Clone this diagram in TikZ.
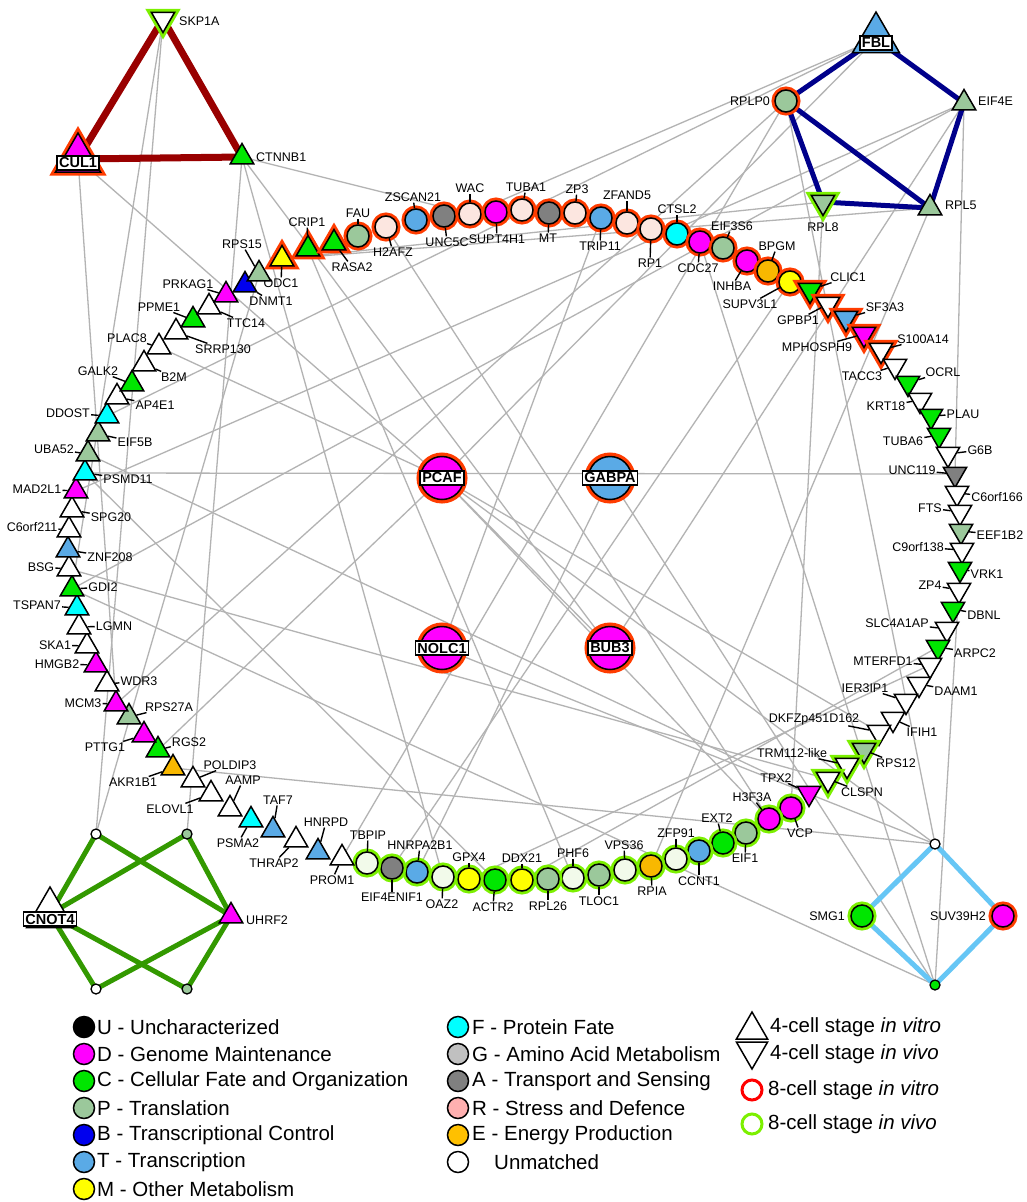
\documentclass[tikz,border=0pt]{standalone}
\usepackage{fontspec}
\setmainfont{Liberation Sans}
\usetikzlibrary{shapes.geometric}
\pgfdeclarelayer{bg}
\pgfsetlayers{bg,main}
\definecolor{cD}{HTML}{FF00FF}
\definecolor{cC}{HTML}{00E600}
\definecolor{cP}{HTML}{9BC89B}
\definecolor{cB}{HTML}{0000EE}
\definecolor{cT}{HTML}{5AAAE6}
\definecolor{cM}{HTML}{FFFF00}
\definecolor{cF}{HTML}{00FFFF}
\definecolor{cG}{HTML}{C0C0C0}
\definecolor{cA}{HTML}{808080}
\definecolor{cR}{HTML}{FFB0B0}
\definecolor{cE}{HTML}{F8B800}
\definecolor{cEl}{HTML}{FFC000}
\definecolor{pW}{HTML}{FCE6E0}
\definecolor{gW}{HTML}{F2FAEA}
\definecolor{ringR}{HTML}{FF3C00}
\definecolor{ringG}{HTML}{7CF000}
\definecolor{eGray}{HTML}{B3B3B3}
\definecolor{eRed}{HTML}{990000}
\definecolor{eBlue}{HTML}{00008B}
\definecolor{eGreen}{HTML}{339900}
\definecolor{eLB}{HTML}{66C6F5}
\newcommand\GNd[6]{\node[#3,fill=#4] (#1) at (#2) {};\node[lbl] (#1l) at (#5) {#6};\draw[tk] (#1) -- (#1l);}
\begin{document}
\begin{tikzpicture}[x=1pt,y=-1pt,
 nb/.style={draw=black,line width=1.5pt,inner sep=0pt},
 tu/.style={nb,regular polygon,regular polygon sides=3,minimum size=27pt},
 td/.style={tu,shape border rotate=180},
 cc/.style={nb,circle,minimum size=22pt},
 rr/.style={preaction={draw=ringR,line width=7pt}},
 rg/.style={preaction={draw=ringG,line width=7pt}},
 tur/.style={tu,rr}, tdr/.style={td,rr}, tdg/.style={td,rg},
 ccr/.style={cc,rr}, ccg/.style={cc,rg},
 big/.style={nb,circle,minimum size=43pt,preaction={draw=ringR,line width=8pt}},
 sm/.style={draw=black,line width=1.3pt,circle,minimum size=10pt,inner sep=0pt},
 lbl/.style={font=\fontsize{12.5}{14}\selectfont,inner sep=1pt},
 tk/.style={draw=black,line width=1.4pt},
 bx/.style={draw=black,fill=white,line width=1.6pt,font=\fontsize{14.5}{16}\bfseries,inner sep=2pt},
 gl/.style={draw=eGray,line width=1.3pt},
 lg/.style={font=\fontsize{20.5}{23}\selectfont,anchor=west,inner sep=0pt},
 lc/.style={draw=black,line width=1.5pt,circle,minimum size=21pt,inner sep=0pt}]
\useasboundingbox (0,0) rectangle (1026,1202);
\begin{pgfonlayer}{bg}\fill[white] (0,0) rectangle (1026,1202);\end{pgfonlayer}

% ---------- top-left triangle group
\node[tdg,fill=white] (SKP1A) at (163,19) {};
\node[lbl,anchor=west] (SKP1Al) at (178,21) {SKP1A};
\node[tur,fill=cD,minimum size=52pt] (CUL1) at (78,159) {};
\node[bx] (CUL1b) at (78,163) {CUL1};
\node[tu,fill=cC] (CTNNB1) at (242,157) {};
\node[lbl,anchor=west] (CTNNB1l) at (255,157) {CTNNB1};

% ---------- top-right pentagon
\node[tu,fill=cT,minimum size=54pt] (FBL) at (876,39) {};
\node[bx] (FBLb) at (876,43) {FBL};
\node[ccr,fill=cP] (RPLP0) at (786,101) {};
\node[lbl,anchor=east] (RPLP0l) at (771,101) {RPLP0};
\node[tu,fill=cP] (EIF4E) at (964,103) {};
\node[lbl,anchor=west] (EIF4El) at (977,101) {EIF4E};
\node[tdg,fill=cP] (RPL8) at (823,202) {};
\node[lbl] (RPL8l) at (823,227) {RPL8};
\node[tu,fill=cP] (RPL5) at (930,208) {};
\node[lbl,anchor=west] (RPL5l) at (944,205) {RPL5};

% ---------- bottom-left CNOT4 group
\node[sm,fill=white] (cL1) at (96,834) {};
\node[sm,fill=cP] (cR1) at (187,834) {};
\node[sm,fill=white] (cL2) at (96,989) {};
\node[sm,fill=cP] (cR2) at (187,989) {};
\node[tu,fill=white,minimum size=54pt] (CNOT4) at (50,914) {};
\node[bx] (CNOT4b) at (50,919) {CNOT4};
\node[tu,fill=cD] (UHRF2) at (231,916) {};
\node[lbl,anchor=west] (UHRF2l) at (245,920) {UHRF2};

% ---------- bottom-right diamond
\node[sm,fill=white] (dT) at (935,844) {};
\node[sm,fill=cC] (dB) at (935,985) {};
\node[ccg,fill=cC] (SMG1) at (862,916) {};
\node[lbl,anchor=east] (SMG1l) at (846,916) {SMG1};
\node[ccr,fill=cD] (SUV39H2) at (1003,916) {};
\node[lbl,anchor=east] (SUV39H2l) at (987,916) {SUV39H2};

% ---------- center
\node[big,fill=cD] (PCAF) at (442,478) {}; \node[bx] (PCAFb) at (442,478) {PCAF};
\node[big,fill=cT] (GABPA) at (610,478) {}; \node[bx] (GABPAb) at (610,478) {GABPA};
\node[big,fill=cD] (NOLC1) at (442,648) {}; \node[bx] (NOLC1b) at (442,648) {NOLC1};
\node[big,fill=cD] (BUB3) at (610,648) {}; \node[bx] (BUB3b) at (610,648) {BUB3};

% ---------- top chain
\GNd{ODC1}{282,259}{tur}{cM}{281,283}{ODC1}
\GNd{CRIP1}{308,249}{tur}{cC}{307,222}{CRIP1}
\GNd{RASA2}{334,243}{tur}{cC}{352,267}{RASA2}
\GNd{FAU}{358,236}{ccr}{cP}{358,213}{FAU}
\GNd{H2AFZ}{386,227}{ccr}{pW}{393,252}{H2AFZ}
\GNd{ZSCAN21}{416,220}{ccr}{cT}{413,197}{ZSCAN21}
\GNd{UNC5C}{444,216}{ccr}{cA}{447,242}{UNC5C}
\GNd{WAC}{470,214}{ccr}{pW}{470,188}{WAC}
\GNd{SUPT4H1}{496,212}{ccr}{cD}{497,239}{SUPT4H1}
\GNd{TUBA1}{522,210}{ccr}{pW}{526,187}{TUBA1}
\GNd{MT}{549,213}{ccr}{cA}{548,238}{MT}
\GNd{ZP3}{575,213}{ccr}{pW}{577,189}{ZP3}
\GNd{TRIP11}{601,218}{ccr}{cT}{600,246}{TRIP11}
\GNd{ZFAND5}{627,223}{ccr}{pW}{627,195}{ZFAND5}
\GNd{RP1}{651,229}{ccr}{pW}{650,263}{RP1}
\GNd{CTSL2}{677,234}{ccr}{cF}{677,209}{CTSL2}
\GNd{CDC27}{700,242}{ccr}{cD}{698,268}{CDC27}
\GNd{EIF3S6}{723,248}{ccr}{cP}{732,226}{EIF3S6}
\GNd{INHBA}{747,261}{ccr}{cD}{732,286}{INHBA}
\GNd{BPGM}{768,271}{ccr}{cE}{777,246}{BPGM}
\GNd{SUPV3L1}{790,282}{ccr}{cM}{750,304}{SUPV3L1}

% ---------- right chain
\GNd{CLIC1}{810,290}{tdr}{cC}{848,277}{CLIC1}
\GNd{GPBP1}{828,304}{tdr}{white}{798,320}{GPBP1}
\GNd{SF3A3}{846,318}{tdr}{cT}{885,307}{SF3A3}
\GNd{MPHOSPH9}{864,334}{tdr}{cD}{817,347}{MPHOSPH9}
\GNd{S100A14}{881,350}{tdr}{white}{923,339}{S100A14}
\GNd{TACC3}{895,366}{td}{white}{862,376}{TACC3}
\GNd{OCRL}{908,383}{td}{cC}{943,372}{OCRL}
\GNd{KRT18}{920,400}{td}{white}{886,406}{KRT18}
\GNd{PLAU}{931,416}{td}{cC}{963,414}{PLAU}
\GNd{TUBA6}{939,435}{td}{cC}{903,441}{TUBA6}
\GNd{G6B}{948,454}{td}{white}{980,450}{G6B}
\GNd{UNC119}{955,474}{td}{cA}{912,470}{UNC119}
\GNd{C6orf166}{957,493}{td}{white}{997,497}{C6orf166}
\GNd{FTS}{960,512}{td}{white}{930,508}{FTS}
\GNd{EEF1B2}{961,531}{td}{cP}{1000,535}{EEF1B2}
\GNd{C9orf138}{962,550}{td}{white}{918,547}{C9orf138}
\GNd{VRK1}{960,569}{td}{cC}{987,574}{VRK1}
\GNd{ZP4}{959,590}{td}{white}{930,585}{ZP4}
\GNd{DBNL}{953,609}{td}{cC}{984,615}{DBNL}
\GNd{SLC4A1AP}{947,629}{td}{white}{897,623}{SLC4A1AP}
\GNd{ARPC2}{938,647}{td}{cC}{975,653}{ARPC2}
\GNd{MTERFD1}{930,665}{td}{white}{883,661}{MTERFD1}
\GNd{DAAM1}{919,684}{td}{white}{956,691}{DAAM1}
\GNd{IER3IP1}{906,701}{td}{white}{865,688}{IER3IP1}
\GNd{IFIH1}{893,719}{td}{white}{922,732}{IFIH1}
\GNd{DKFZ}{879,732}{td}{white}{814,719}{DKFZp451D162}
\GNd{RPS12}{864,750}{tdg}{cP}{896,763}{RPS12}
\GNd{TRM}{847,765}{tdg}{white}{792,753}{TRM112-like}
\GNd{CLSPN}{828,779}{tdg}{white}{862,792}{CLSPN}
\GNd{TPX2}{809,793}{td}{cD}{776,778}{TPX2}

% ---------- bottom chain
\GNd{VCP}{791,808}{ccg}{cD}{800,833}{VCP}
\GNd{H3F3A}{769,819}{ccg}{cD}{752,797}{H3F3A}
\GNd{EIF1}{746,833}{ccg}{cP}{745,858}{EIF1}
\GNd{EXT2}{723,843}{ccg}{cC}{717,818}{EXT2}
\GNd{CCNT1}{699,851}{ccg}{cT}{699,881}{CCNT1}
\GNd{ZFP91}{676,859}{ccg}{gW}{676,833}{ZFP91}
\GNd{RPIA}{651,866}{ccg}{cE}{652,891}{RPIA}
\GNd{VPS36}{625,870}{ccg}{gW}{624,845}{VPS36}
\GNd{TLOC1}{599,875}{ccg}{cP}{599,901}{TLOC1}
\GNd{PHF6}{573,878}{ccg}{gW}{573,853}{PHF6}
\GNd{RPL26}{548,879}{ccg}{cP}{548,906}{RPL26}
\GNd{DDX21}{522,880}{ccg}{cM}{522,858}{DDX21}
\GNd{ACTR2}{495,880}{ccg}{cC}{493,907}{ACTR2}
\GNd{GPX4}{469,879}{ccg}{cM}{469,857}{GPX4}
\GNd{OAZ2}{443,877}{ccg}{gW}{442,904}{OAZ2}
\GNd{HNRPA2B1}{417,872}{ccg}{cT}{420,845}{HNRPA2B1}
\GNd{EIF4ENIF1}{392,868}{ccg}{cA}{392,897}{EIF4ENIF1}
\GNd{TBPIP}{367,863}{ccg}{gW}{368,835}{TBPIP}
\GNd{PROM1}{342,858}{tu}{white}{332,880}{PROM1}
\GNd{HNRPD}{318,852}{tu}{cT}{326,822}{HNRPD}
\GNd{THRAP2}{296,840}{tu}{white}{274,863}{THRAP2}
\GNd{TAF7}{273,830}{tu}{cT}{278,800}{TAF7}
\GNd{PSMA2}{251,820}{tu}{cF}{238,843}{PSMA2}
\GNd{AAMP}{230,809}{tu}{white}{243,780}{AAMP}
\GNd{ELOVL1}{211,794}{tu}{white}{170,809}{ELOVL1}
\GNd{POLDIP3}{193,780}{tu}{white}{230,765}{POLDIP3}
\GNd{AKR1B1}{173,768}{tu}{cE}{133,782}{AKR1B1}

% ---------- left chain
\GNd{RGS2}{158,750}{tu}{cC}{189,742}{RGS2}
\GNd{PTTG1}{144,735}{tu}{cD}{105,747}{PTTG1}
\GNd{RPS27A}{129,717}{tu}{cP}{169,707}{RPS27A}
\GNd{MCM3}{116,704}{tu}{cD}{83,703}{MCM3}
\GNd{WDR3}{107,684}{tu}{white}{139,681}{WDR3}
\GNd{HMGB2}{96,665}{tu}{cD}{57,664}{HMGB2}
\GNd{SKA1}{87,646}{tu}{white}{55,645}{SKA1}
\GNd{LGMN}{79,627}{tu}{white}{114,626}{LGMN}
\GNd{TSPAN7}{77,608}{tu}{cF}{37,605}{TSPAN7}
\GNd{GDI2}{72,589}{tu}{cC}{103,587}{GDI2}
\GNd{BSG}{69,569}{tu}{white}{41,567}{BSG}
\GNd{ZNF208}{68,550}{tu}{cT}{110,557}{ZNF208}
\GNd{C6orf211}{69,530}{tu}{white}{32,527}{C6orf211}
\GNd{SPG20}{72,510}{tu}{white}{111,517}{SPG20}
\GNd{MAD2L1}{76,491}{tu}{cD}{37,489}{MAD2L1}
\GNd{PSMD11}{85,473}{tu}{cF}{128,479}{PSMD11}
\GNd{UBA52}{88,454}{tu}{cP}{54,449}{UBA52}
\GNd{EIF5B}{98,434}{tu}{cP}{135,442}{EIF5B}
\GNd{DDOST}{107,416}{tu}{cF}{68,413}{DDOST}
\GNd{AP4E1}{117,397}{tu}{white}{155,405}{AP4E1}
\GNd{GALK2}{132,384}{tu}{cC}{98,371}{GALK2}
\GNd{B2M}{144,364}{tu}{white}{174,377}{B2M}
\GNd{PLAC8}{159,347}{tu}{white}{127,338}{PLAC8}
\GNd{SRRP130}{176,332}{tu}{white}{223,349}{SRRP130}
\GNd{PPME1}{193,320}{tu}{cC}{159,307}{PPME1}
\GNd{TTC14}{209,307}{tu}{white}{246,323}{TTC14}
\GNd{PRKAG1}{226,295}{tu}{cD}{188,284}{PRKAG1}
\GNd{DNMT1}{245,285}{tu}{cB}{271,301}{DNMT1}
\GNd{RPS15}{259,274}{tu}{cP}{242,244}{RPS15}

% ---------- edges
\begin{pgfonlayer}{bg}
\foreach \a/\b in {SKP1A/GDI2,SKP1A/cL1,CUL1/PCAF,CUL1/MCM3,CTNNB1/cR1,CTNNB1/WAC,
 CTNNB1/OAZ2,CTNNB1/BUB3,ODC1/RPL8,ODC1/RPL5,FBL/DDOST,FBL/PCAF,FBL/WAC,RPLP0/MCM3,
 RPLP0/PROM1,RPLP0/dT,RPL8/VCP,RPL5/RPIA,EIF4E/UNC119,EIF4E/GDI2,EIF4E/BUB3,EIF4E/MAD2L1,
 VRK1/dB,PSMD11/UNC119,PCAF/RGS2,PCAF/H3F3A,PCAF/BUB3,PCAF/DKFZ,PCAF/dT,PCAF/PLAC8,
 GABPA/HNRPA2B1,GABPA/dB,NOLC1/TRIP11,NOLC1/dT,UBA52/TPX2,AKR1B1/dT,ARPC2/DDX21,
 PSMD11/ACTR2,EIF4ENIF1/SUPV3L1,GDI2/dB,BSG/CLSPN,cL1/RPS15,CDC27/dB,H2AFZ/H3F3A,
 CRIP1/PHF6,MTERFD1/GPX4}
 \draw[gl] (\a.center) -- (\b.center);
\foreach \a/\b in {CUL1/SKP1A,SKP1A/CTNNB1,CUL1/CTNNB1}
 \draw[eRed,line width=7pt] (\a.center) -- (\b.center);
\foreach \a/\b in {FBL/RPLP0,FBL/EIF4E,EIF4E/RPL5,RPLP0/RPL5,RPLP0/RPL8,RPL8/RPL5}
 \draw[eBlue,line width=5pt] (\a.center) -- (\b.center);
\foreach \a in {cL1,cR1,cL2,cR2}{
 \draw[eGreen,line width=5pt] (CNOT4.center) -- (\a.center);
 \draw[eGreen,line width=5pt] (UHRF2.center) -- (\a.center);}
\foreach \a/\b in {dT/SMG1,dT/SUV39H2,SMG1/dB,SUV39H2/dB}
 \draw[eLB,line width=5pt] (\a.center) -- (\b.center);
\end{pgfonlayer}

% ---------- legend
\foreach \c/\t [count=\i from 0] in {black/U - Uncharacterized,cD/D - Genome Maintenance,
 cC/C - Cellular Fate and Organization,cP/P - Translation,cB/B - Transcriptional Control,
 cT/T - Transcription,cM/M - Other Metabolism}{
 \node[lc,fill=\c] (la\i) at (84,1027+27*\i) {};
 \node[lg] (lt\i) at (97,1027+27*\i) {\t};}
\foreach \c/\t [count=\i from 0] in {cF/F - Protein Fate,cG/G - Amino Acid Metabolism,
 cA/A - Transport and Sensing,cR/R - Stress and Defence,cEl/E - Energy Production}{
 \node[lc,fill=\c] (lb\i) at (458,1027+27*\i) {};
 \node[lg] (lu\i) at (472,1027+27*\i) {\t};}
\node[lc,fill=white] (lb5) at (458,1162) {};
\node[lg] (lu5) at (494,1162) {Unmatched};
\node[draw=black,line width=1.5pt,regular polygon,regular polygon sides=3,minimum size=36pt,inner sep=0pt] (lk1) at (752,1030) {};
\node[lg] (lv1) at (770,1027) {4-cell stage \textit{in vitro}};
\node[draw=black,line width=1.5pt,regular polygon,regular polygon sides=3,shape border rotate=180,minimum size=36pt,inner sep=0pt] (lk2) at (752,1051) {};
\node[lg] (lv2) at (770,1054) {4-cell stage \textit{in vivo}};
\node[draw=red,line width=3pt,circle,minimum size=20pt,inner sep=0pt] (lk3) at (752,1090) {};
\node[lg] (lv3) at (768,1090) {8-cell stage \textit{in vitro}};
\node[draw=ringG,line width=3pt,circle,minimum size=20pt,inner sep=0pt] (lk4) at (752,1124) {};
\node[lg] (lv4) at (768,1124) {8-cell stage \textit{in vivo}};
\end{tikzpicture}
\end{document}
